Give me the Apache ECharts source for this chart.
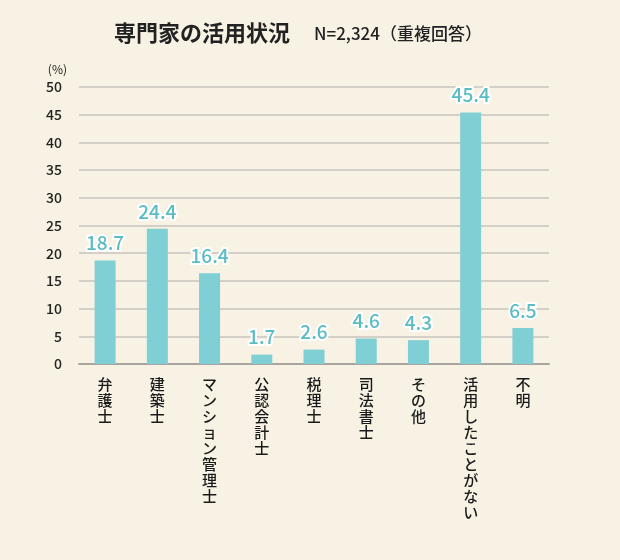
<!DOCTYPE html>
<html><head><meta charset="utf-8">
<script src="https://cdn.jsdelivr.net/npm/echarts@6/dist/echarts.min.js"></script>
<style>html,body{margin:0;padding:0;background:#f8f2e5;}#c{width:620px;height:560px;}</style>
</head><body><div id="c"></div>
<script>
const categories = ['弁護士','建築士','マンション管理士','公認会計士','税理士','司法書士','その他','活用したことがない','不明'];
const values = [18.7, 24.4, 16.4, 1.7, 2.6, 4.6, 4.3, 45.4, 6.5];
const yTicks = [0,5,10,15,20,25,30,35,40,45,50];
const font = '"Noto Sans CJK JP", "Noto Sans", sans-serif';
const chart = echarts.init(document.getElementById('c'));
chart.setOption({
  backgroundColor: '#f8f2e5',
  animation: false,
  textStyle: {fontFamily: font},
  title: {
    left: 109, top: 17,
    text: '{a|専門家の活用状況}{b|N=2,324（重複回答）}',
    textStyle: {rich: {
      a: {fontSize: 22, fontWeight: 'bold', color: '#222', fontFamily: font},
      b: {fontSize: 17, fontWeight: 500, color: '#222', fontFamily: font, padding:[1,0,0,24]}
    }}
  },
  grid: {left: 79, right: 71, top: 87, bottom: 196, containLabel: false},
  xAxis: {
    type: 'category', data: categories,
    axisLine: {lineStyle: {color: '#a9a59e', width: 2}},
    axisTick: {show: false},
    axisLabel: {
      interval: 0, margin: 12, verticalAlign: 'top', lineHeight: 16, fontSize: 15, fontWeight: 500, color: '#1a1a1a',
      formatter: v => v.split('').join('\n')
    }
  },
  yAxis: {
    type: 'value', min: 0, max: 50, interval: 5,
    name: '(%)', nameLocation: 'end', nameGap: 12,
    nameTextStyle: {fontSize: 12, color: '#222', align: 'right', padding: [0, 12, 0, 0]},
    axisLine: {show: false}, axisTick: {show: false},
    axisLabel: {fontSize: 14, fontWeight: 500, color: '#222', margin: 17, formatter: v => yTicks.includes(v) ? String(v) : ''},
    splitLine: {lineStyle: {color: '#c9c5bd', width: 1.5}}
  },
  series: [{
    type: 'bar', data: values, barWidth: 21,
    itemStyle: {color: '#7fcfd4'},
    label: {show: true, position: 'top', distance: 8, fontSize: 19, fontWeight: 500, color: '#5bbcc4',
      textBorderColor: '#ffffff', textBorderWidth: 4, formatter: p => p.value.toFixed(1)}
  }]
});
</script></body></html>
